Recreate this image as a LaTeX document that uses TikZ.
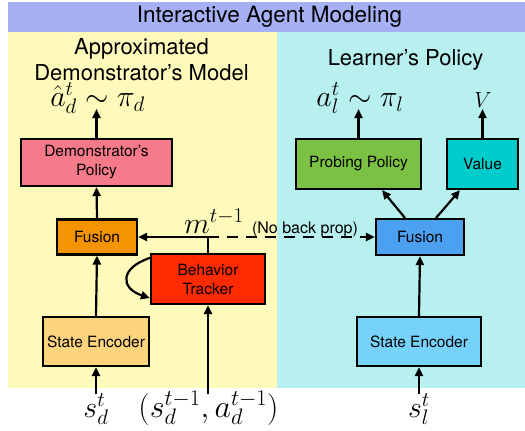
\RequirePackage{fix-cm}
\documentclass[tikz,border=0pt]{standalone}
\usepackage{fontspec}
\newfontfamily\hv{TeX Gyre Heros}
\usetikzlibrary{arrows.meta}
\definecolor{titlebg}{RGB}{165,176,245}
\definecolor{yelbg}{RGB}{253,250,187}
\definecolor{cyabg}{RGB}{184,240,240}
\definecolor{cdp}{RGB}{247,122,138}
\definecolor{cfl}{RGB}{245,147,0}
\definecolor{cbt}{RGB}{255,42,0}
\definecolor{csel}{RGB}{253,212,125}
\definecolor{cpp}{RGB}{123,193,67}
\definecolor{cval}{RGB}{0,204,204}
\definecolor{cfr}{RGB}{75,160,240}
\definecolor{cser}{RGB}{118,210,250}
\tikzset{
  blk/.style={draw, line width=2.2pt, inner sep=0pt, align=center,
    font=\hv\fontsize{15.5}{19}\selectfont},
  arr/.style={line width=2.2pt, -{Triangle[length=9pt,width=8pt]}},
  mth/.style={inner sep=0pt, anchor=base, font=\fontsize{30}{36}\selectfont},
  hdr/.style={inner sep=0pt, align=center, font=\hv\fontsize{22}{26}\selectfont},
}
\begin{document}
\begin{tikzpicture}[x=1pt,y=-1pt]
\useasboundingbox (0,0) rectangle (525,431);
\fill[white] (0,0) rectangle (525,431);
% panels
\fill[titlebg] (8,2) rectangle (525,32);
\fill[yelbg] (8,32) rectangle (277,388);
\fill[cyabg] (277,32) rectangle (525,388);
% headings
\node[hdr, font=\hv\fontsize{22.5}{26}\selectfont] (title) at (269.5,17) {Interactive Agent Modeling};
\node[hdr] (hleft) at (141.5,60) {Approximated\\Demonstrator’s Model};
\node[hdr] (hright) at (405.5,60) {Learner’s Policy};
% boxes
\node[blk, fill=cdp, minimum width=151pt, minimum height=47pt] (dp) at (96.5,162.5) {Demonstrator’s\\Policy};
\node[blk, fill=cfl, minimum width=80pt, minimum height=35pt] (fl) at (97,237) {Fusion};
\node[blk, fill=cbt, minimum width=114pt, minimum height=50pt] (bt) at (208,279) {Behavior\\Tracker};
\node[blk, fill=csel, minimum width=106pt, minimum height=49pt] (sel) at (96,341.5) {State Encoder};
\node[blk, fill=cpp, minimum width=125pt, minimum height=50pt] (pp) at (358.5,164) {Probing Policy};
\node[blk, fill=cval, minimum width=71pt, minimum height=50pt] (val) at (482.5,164) {Value};
\node[blk, fill=cfr, minimum width=88pt, minimum height=36pt] (fr) at (420,237) {Fusion};
\node[blk, fill=cser, minimum width=124pt, minimum height=49pt] (ser) at (419,341.5) {State Encoder};
% math labels
\node[mth] (lad) at (97.5,106.5) {$\hat{a}_d^t\sim\pi_d$};
\node[mth] (lal) at (360,106.5) {$a_l^t\sim\pi_l$};
\node[mth, font=\fontsize{22}{26}\selectfont] (lv) at (483,107) {$V$};
\node[mth] (lsd) at (96,417) {$s_d^t$};
\node[mth, font=\fontsize{32}{38}\selectfont] (lsa) at (208.5,417) {$(s_d^{t-1},a_d^{t-1})$};
\node[mth] (lsl) at (419,417) {$s_l^t$};
\node[mth] (lm) at (214,233) {$m^{t-1}$};
\node[inner sep=0pt, anchor=base, font=\hv\fontsize{16}{19}\selectfont] (nbp) at (305,233) {(No back prop)};
% coordinates
\coordinate (cad) at (96.5,109);
\coordinate (cal) at (358.5,109);
\coordinate (cv) at (482.5,109);
\coordinate (csd) at (96,394);
\coordinate (csa) at (208,394);
\coordinate (csl) at (419,394);
\coordinate (mj) at (208,237);
% connectors
\draw[arr] (dp.north) -- (cad);
\draw[arr] (fl.north) -- (dp.south);
\draw[arr] (sel.north) -- (fl.south);
\draw[arr] (csd) -- (sel.south);
\draw[arr] (csa) -- (bt.south);
\draw[line width=2.2pt] (bt.north) -- (mj);
\draw[arr] (mj) -- (fl.east);
\draw[arr, dash pattern=on 11pt off 8pt] (mj) -- (fr.west);
\draw[arr] ([yshift=-5pt]bt.north west) .. controls +(-30,10) and +(-30,-10) .. ([yshift=7pt]bt.south west);
\draw[arr] (pp.north) -- (cal);
\draw[arr] (val.north) -- (cv);
\draw[arr] (ser.north) -- (fr.south);
\draw[arr] (csl) -- (ser.south);
\draw[arr] ([xshift=-15pt]fr.north) -- ([xshift=23.5pt]pp.south);
\draw[arr] ([xshift=16pt]fr.north) -- ([xshift=-22.5pt]val.south);
\end{tikzpicture}
\end{document}
